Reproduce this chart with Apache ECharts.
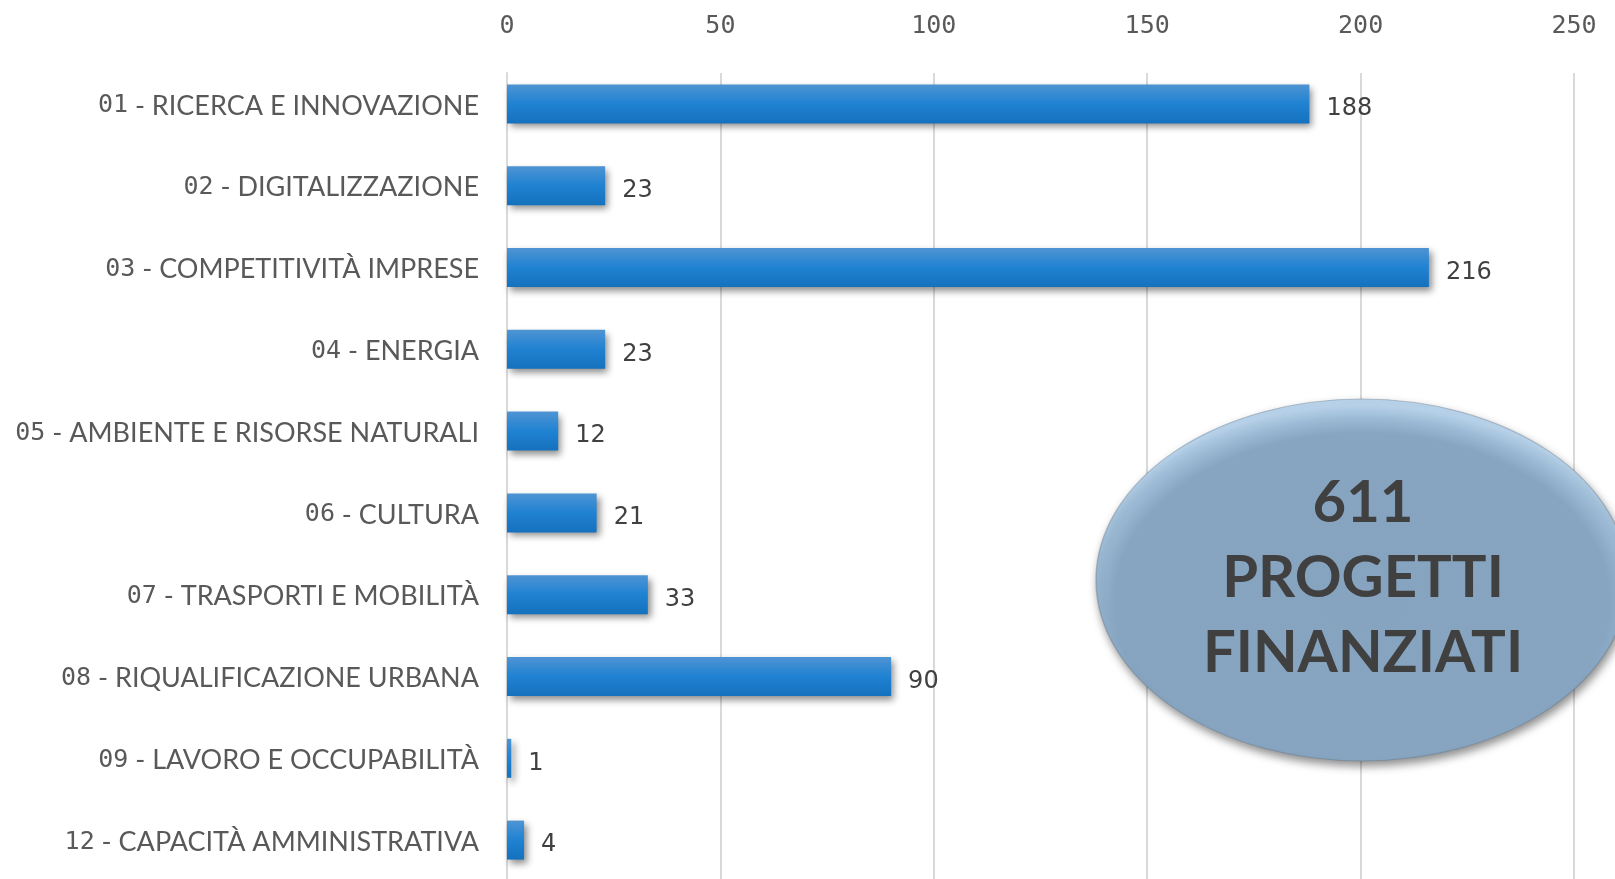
<!DOCTYPE html>
<html>
<head>
<meta charset="utf-8">
<title>Progetti finanziati</title>
<script src="https://cdn.jsdelivr.net/npm/echarts@6/dist/echarts.min.js"></script>
<style>
    html, body { margin: 0; padding: 0; background: #fff; }
    #chart { width: 1615px; height: 879px; }
</style>
</head>
<body>
<div id="chart"></div>
<script>
// dati
var codes = ['01', '02', '03', '04', '05', '06', '07', '08', '09', '12'];
var names = ['RICERCA E INNOVAZIONE', 'DIGITALIZZAZIONE', 'COMPETITIVITÀ IMPRESE', 'ENERGIA',
    'AMBIENTE E RISORSE NATURALI', 'CULTURA', 'TRASPORTI E MOBILITÀ', 'RIQUALIFICAZIONE URBANA',
    'LAVORO E OCCUPABILITÀ', 'CAPACITÀ AMMINISTRATIVA'];
var progetti = [188, 23, 216, 23, 12, 21, 33, 90, 1, 4];
var xTicks = [0, 50, 100, 150, 200, 250];

var categories = codes.map(function (c, i) { return c + ' - ' + names[i]; });
var totale = progetti.reduce(function (a, b) { return a + b; }, 0);

drawChart();

function drawChart() {
    var myChart = echarts.init(document.getElementById('chart'));
    var xMin = xTicks[0], xMax = xTicks[xTicks.length - 1], xStep = xTicks[1] - xTicks[0];

    option = {
        animation: false,
        grid: [
            // griglia per le linee verticali e le etichette in alto
            { left: 507, right: 41, top: 73, bottom: 0, outerBoundsMode: 'none' },
            // griglia per le barre
            { left: 507, right: 41, top: 63, height: 818, outerBoundsMode: 'none' }
        ],
        xAxis: [
            {
                gridIndex: 0,
                type: 'value',
                position: 'top',
                min: xMin, max: xMax, interval: xStep,
                axisLine: { show: false },
                axisTick: { show: false },
                axisLabel: {
                    margin: 34,
                    color: '#595959',
                    fontFamily: 'DejaVu Sans Mono',
                    fontSize: 25
                },
                splitLine: { lineStyle: { color: '#d9d9d9', width: 2 } }
            },
            {
                gridIndex: 1,
                type: 'value',
                min: xMin, max: xMax, interval: xStep,
                show: false
            }
        ],
        yAxis: [
            {
                gridIndex: 0,
                type: 'value',
                axisLine: { show: true, lineStyle: { color: '#d9d9d9', width: 2 } },
                axisTick: { show: false },
                axisLabel: { show: false },
                splitLine: { show: false }
            },
            {
                gridIndex: 1,
                type: 'category',
                inverse: true,
                data: categories,
                axisLine: { show: false },
                axisTick: { show: false },
                axisLabel: {
                    margin: 28,
                    padding: [4, 0, 0, 0],
                    formatter: function (v) {
                        var i = categories.indexOf(v);
                        return '{n|' + codes[i] + '}{t| - ' + names[i] + '}';
                    },
                    rich: {
                        n: { fontFamily: 'DejaVu Sans Mono', fontSize: 25, color: '#595959' },
                        t: { fontFamily: 'Lato', fontSize: 27, color: '#595959' }
                    }
                }
            }
        ],
        series: [{
            type: 'bar',
            xAxisIndex: 1,
            yAxisIndex: 1,
            barWidth: 39,
            data: progetti,
            itemStyle: {
                color: new echarts.graphic.LinearGradient(0, 0, 0, 1, [
                    { offset: 0, color: '#4f94d3' },
                    { offset: 0.5, color: '#1f82d2' },
                    { offset: 1, color: '#1571bd' }
                ]),
                shadowColor: 'rgba(0,0,0,0.45)',
                shadowBlur: 7,
                shadowOffsetX: 3,
                shadowOffsetY: 4
            },
            label: {
                show: true,
                position: 'right',
                distance: 17,
                offset: [0, 5],
                color: '#404040',
                fontFamily: 'DejaVu Sans',
                fontSize: 24
            }
        }],
        graphic: [
            {
                // cerchio scalato in orizzontale = ellisse con sfumatura ellittica
                type: 'circle',
                z: 100,
                x: 1362,
                y: 580,
                scaleX: 266 / 181,
                shape: { cx: 0, cy: 0, r: 181 },
                style: {
                    fill: new echarts.graphic.RadialGradient(0.5, 0.56, 0.54, [
                        { offset: 0, color: '#86a4c0' },
                        { offset: 0.86, color: '#87a5c1' },
                        { offset: 0.94, color: '#9dbbd6' },
                        { offset: 1, color: '#b8d3ea' }
                    ]),
                    stroke: 'rgba(90,110,130,0.35)',
                    lineWidth: 1,
                    strokeNoScale: true,
                    shadowColor: 'rgba(0,0,0,0.45)',
                    shadowBlur: 10,
                    shadowOffsetX: 2,
                    shadowOffsetY: 5
                }
            },
            {
                type: 'text',
                z: 101,
                x: 1363,
                y: 578,
                style: {
                    text: totale + '\nPROGETTI\nFINANZIATI',
                    align: 'center',
                    verticalAlign: 'middle',
                    fill: '#404040',
                    fontFamily: 'Lato',
                    fontWeight: 'bold',
                    fontSize: 58,
                    lineHeight: 75
                }
            }
        ]
    };

    myChart.setOption(option);
    window.addEventListener("resize", function () {
        myChart.resize();
    });
}
</script>
</body>
</html>
